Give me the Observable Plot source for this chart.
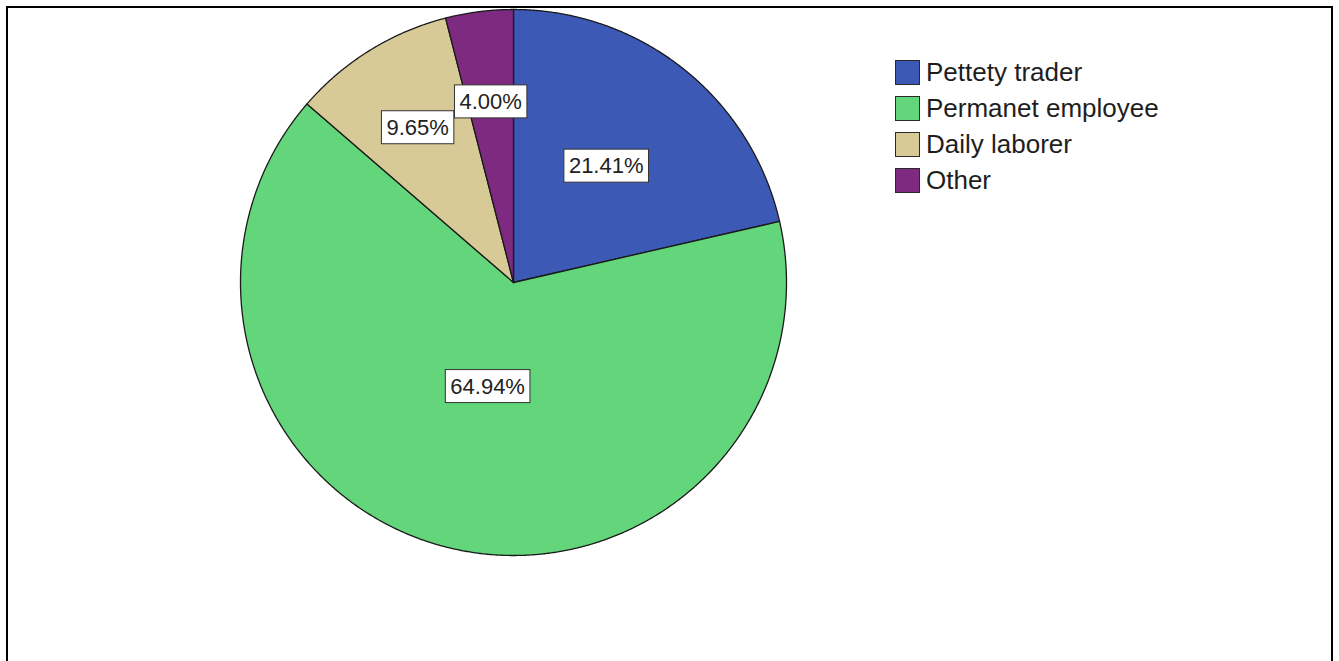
<!DOCTYPE html>
<html><head><meta charset="utf-8">
<script src="https://cdn.jsdelivr.net/npm/d3@7"></script>
<script src="https://cdn.jsdelivr.net/npm/@observablehq/plot@0.6"></script>
<style>
html,body{margin:0;padding:0;background:#fff;overflow:hidden;}
#wrap{position:relative;width:1339px;height:661px;}
#chart{position:absolute;left:0;top:0;}
#frame{position:absolute;left:6px;top:6px;width:1327px;height:700px;border:2px solid #000;box-sizing:border-box;pointer-events:none;}
#legend{position:absolute;left:895px;top:54px;font-family:"Liberation Sans",Arial,sans-serif;font-size:26px;color:#1e1e1e;}
.row{display:flex;align-items:center;height:36px;}
.sw{width:25px;height:25px;border:1.5px solid #2a2a2a;margin-right:6px;box-sizing:border-box;}
</style></head><body>
<div id="wrap"><div id="chart"></div><div id="legend"></div><div id="frame"></div></div>
<script>
const categories = ["Pettety trader", "Permanet employee", "Daily laborer", "Other"];
const percents = [21.41, 64.94, 9.65, 4.00];
const labels = ["21.41%", "64.94%", "9.65%", "4.00%"];
const colors = ["#3d59b6", "#63d57b", "#d8ca96", "#7e2a80"];

const W = 1339, H = 661, cx = 513, cy = 282, r = 273;

const total = d3.sum(percents);
let acc = 0;
const slices = categories.map((c, i) => {
  const a0 = acc / total * 2 * Math.PI;
  acc += percents[i];
  const a1 = acc / total * 2 * Math.PI;
  return {category: c, color: colors[i], label: labels[i], share: percents[i] / total, a0, a1};
});

const pts = [];
for (const s of slices) {
  pts.push({category: s.category, color: s.color, x: 0, y: 0});
  const n = Math.max(4, Math.ceil((s.a1 - s.a0) / 0.005));
  for (let k = 0; k <= n; k++) {
    const a = s.a0 + (s.a1 - s.a0) * k / n;
    pts.push({category: s.category, color: s.color, x: Math.sin(a), y: Math.cos(a)});
  }
  pts.push({category: s.category, color: s.color, x: 0, y: 0});
}

// label placement: small slices near the rim, large slices closer to the centre
const labelPts = slices.map(s => {
  const m = (s.a0 + s.a1) / 2;
  const f = s.share < 0.15 ? 0.667 : 0.62 - 0.35 * s.share;
  return {label: s.label, x: f * Math.sin(m), y: f * Math.cos(m)};
});

const chart = Plot.plot({
  width: W, height: H,
  margin: 0,
  style: {background: "transparent"},
  x: {type: "linear", domain: [-cx / r, (W - cx) / r], range: [0, W], axis: null},
  y: {type: "linear", domain: [cy / r, -(H - cy) / r], range: [0, H], axis: null},
  color: {type: "identity"},
  marks: [
    Plot.line(pts, {x: "x", y: "y", z: "category", fill: "color", stroke: "#1a1a1a", strokeWidth: 1.3, strokeLinejoin: "round"}),
    Plot.text(labelPts, {x: "x", y: "y", text: "label", fontSize: 22, fill: "#222", fontFamily: "'Liberation Sans', Arial, sans-serif"})
  ]
});
document.getElementById("chart").appendChild(chart);

// white boxes behind the slice labels
d3.select(chart).selectAll("g[aria-label=text] text").each(function() {
  const b = this.getBBox();
  const padX = 5, padY = 4;
  d3.select(this.parentNode).insert("rect", () => this)
    .attr("transform", this.getAttribute("transform"))
    .attr("x", b.x - padX)
    .attr("y", b.y - padY)
    .attr("width", b.width + 2 * padX).attr("height", b.height + 2 * padY)
    .attr("fill", "#fff").attr("stroke", "#333").attr("stroke-width", 1);
});

const legend = d3.select("#legend");
categories.forEach((c, i) => {
  const row = legend.append("div").attr("class", "row");
  row.append("div").attr("class", "sw").style("background", colors[i]);
  row.append("span").text(c);
});
</script>
</body></html>
